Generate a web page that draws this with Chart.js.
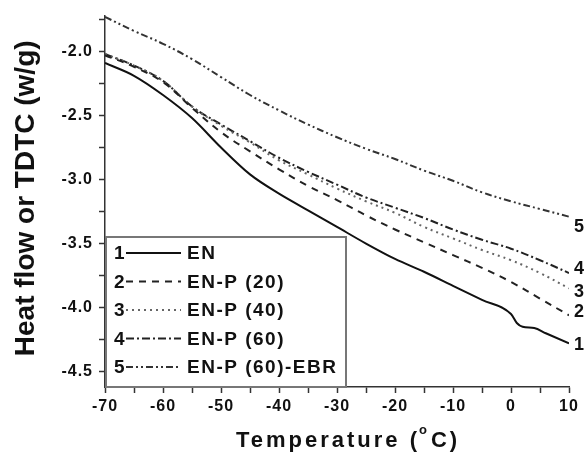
<!DOCTYPE html>
<html>
<head>
<meta charset="utf-8">
<script src="https://cdn.jsdelivr.net/npm/chart.js@4/dist/chart.umd.min.js"></script>
<style>
  html, body { margin: 0; padding: 0; background: #fff; }
  #wrap { width: 584px; height: 461px; }
</style>
</head>
<body>
<div id="wrap"><canvas id="dsc_chart" width="584" height="461"></canvas></div>
<script>
// temperature grid (°C)
const temps = [-70, -65, -60, -55, -50, -45, -40, -35, -30, -25, -20, -15, -10, -5, 0, 5, 10];
const tempsEN = [-70, -65, -60, -55, -50, -45, -40, -35, -30, -25, -20, -15, -10, -5, 0, 1, 2, 4, 6, 10];

// heat flow (w/g)
const flowEN = [-2.09, -2.19, -2.34, -2.52, -2.75, -2.96, -3.11, -3.24, -3.37, -3.50, -3.62, -3.72, -3.83, -3.94, -4.05, -4.12, -4.15, -4.16, -4.20, -4.28];
const flowP20 = [-2.03, -2.12, -2.24, -2.44, -2.63, -2.78, -2.92, -3.05, -3.16, -3.28, -3.39, -3.49, -3.59, -3.69, -3.80, -3.93, -4.06];
const flowP40 = [-2.02, -2.11, -2.23, -2.43, -2.58, -2.71, -2.85, -2.96, -3.07, -3.17, -3.26, -3.37, -3.46, -3.55, -3.63, -3.73, -3.85];
const flowP60 = [-2.02, -2.11, -2.23, -2.43, -2.57, -2.70, -2.83, -2.94, -3.04, -3.14, -3.22, -3.30, -3.39, -3.47, -3.54, -3.63, -3.73];
const flowEBR = [-1.73, -1.84, -1.94, -2.06, -2.20, -2.34, -2.46, -2.57, -2.67, -2.76, -2.84, -2.93, -3.01, -3.10, -3.17, -3.23, -3.29];

const seriesNames = ['EN', 'EN-P (20)', 'EN-P (40)', 'EN-P (60)', 'EN-P (60)-EBR'];
const seriesNums = ['1', '2', '3', '4', '5'];
const xTitle = 'Temperature (';
const yTitle = 'Heat flow or TDTC (w/g)';

const FONT = '"Liberation Sans", Arial, sans-serif';

function toPoints(xs, ys) {
    return xs.map((x, i) => ({ x: x, y: ys[i] }));
}

function makeSet(label, xs, ys, dash, color, mode) {
    return {
        label: label,
        data: toPoints(xs, ys),
        borderColor: color,
        borderWidth: 2,
        borderDash: dash,
        pointRadius: 0,
        showLine: true,
        tension: 0.4,
        cubicInterpolationMode: mode,
        fill: false
    };
}

const datasets = [
    makeSet(seriesNames[0], tempsEN, flowEN, [], '#111', 'monotone'),
    makeSet(seriesNames[1], temps, flowP20, [7, 6], '#222', 'default'),
    makeSet(seriesNames[2], temps, flowP40, [2, 4], '#666', 'default'),
    makeSet(seriesNames[3], temps, flowP60, [8, 3, 2, 3], '#222', 'default'),
    makeSet(seriesNames[4], temps, flowEBR, [7, 3, 2, 3, 2, 3], '#333', 'default')
];

// titles, legend box and curve numbers drawn on top
const extrasPlugin = {
    id: 'extras',
    beforeDraw(chart) {
        chart.ctx.letterSpacing = '1px';
    },
    afterDraw(chart) {
        const ctx = chart.ctx;
        const xs = chart.scales.x;
        const ys = chart.scales.y;
        ctx.save();
        ctx.fillStyle = '#111';

        // y title
        ctx.letterSpacing = '0px';
        ctx.font = 'bold 28px ' + FONT;
        ctx.textAlign = 'center';
        ctx.textBaseline = 'middle';
        ctx.save();
        ctx.translate(26, (chart.chartArea.top + chart.chartArea.bottom) / 2 - 3);
        ctx.rotate(-Math.PI / 2);
        ctx.fillText(yTitle, 0, 0);
        ctx.restore();

        // x title with superscript o
        ctx.letterSpacing = '3px';
        ctx.textAlign = 'left';
        ctx.textBaseline = 'alphabetic';
        ctx.font = 'bold 22px ' + FONT;
        const w1 = ctx.measureText(xTitle).width;
        ctx.font = 'bold 13px ' + FONT;
        const w2 = ctx.measureText('o').width;
        ctx.font = 'bold 22px ' + FONT;
        const w3 = ctx.measureText('C)').width;
        let tx = 348 - (w1 + w2 + w3) / 2;
        ctx.fillText(xTitle, tx, 447);
        tx += w1;
        ctx.font = 'bold 13px ' + FONT;
        ctx.fillText('o', tx - 1, 434);
        tx += w2;
        ctx.font = 'bold 22px ' + FONT;
        ctx.fillText('C)', tx, 447);

        // legend box
        ctx.letterSpacing = '1.5px';
        ctx.fillStyle = '#fff';
        ctx.fillRect(106, 237, 240, 150);
        ctx.strokeStyle = '#777';
        ctx.lineWidth = 2;
        ctx.strokeRect(106, 237, 240, 150);
        ctx.font = 'bold 19px ' + FONT;
        ctx.textBaseline = 'middle';
        datasets.forEach((ds, i) => {
            const y = 253 + i * 28.5;
            ctx.fillStyle = '#111';
            ctx.fillText(seriesNums[i], 114, y + 1);
            ctx.fillText(ds.label, 187, y + 1);
            ctx.beginPath();
            ctx.setLineDash(ds.borderDash);
            ctx.strokeStyle = ds.borderColor;
            ctx.lineWidth = ds.borderWidth;
            ctx.moveTo(126, y);
            ctx.lineTo(181, y);
            ctx.stroke();
        });
        ctx.setLineDash([]);

        // numbers at the right ends of the curves
        const nudge = [2, -3, 4, -4, 10];
        ctx.font = 'bold 18px ' + FONT;
        ctx.letterSpacing = '0px';
        ctx.fillStyle = '#111';
        datasets.forEach((ds, i) => {
            const last = ds.data[ds.data.length - 1];
            ctx.fillText(seriesNums[i], xs.getPixelForValue(last.x) + 5, ys.getPixelForValue(last.y) + nudge[i]);
        });
        ctx.restore();
    }
};

const ctx = document.getElementById('dsc_chart').getContext('2d');
const dscChart = new Chart(ctx, {
    type: 'scatter',
    data: { datasets: datasets },
    options: {
        responsive: false,
        animation: false,
        layout: { padding: { left: 0, right: 15, top: 13, bottom: 0 } },
        plugins: {
            legend: { display: false },
            tooltip: { enabled: false }
        },
        scales: {
            x: {
                type: 'linear',
                min: -70,
                max: 10,
                afterFit: (scale) => { scale.height = 74; },
                border: { color: '#333', width: 1.5 },
                grid: { drawOnChartArea: false, tickLength: 6, tickColor: '#333', tickWidth: 1.5 },
                ticks: {
                    stepSize: 5,
                    autoSkip: false,
                    maxRotation: 0,
                    padding: 4,
                    color: '#111',
                    font: { family: FONT, size: 16, weight: 'bold' },
                    callback: (v) => (v % 10 === 0 ? String(v) : '')
                }
            },
            y: {
                type: 'linear',
                min: -4.62,
                max: -1.72,
                afterFit: (scale) => { scale.width = 105; },
                border: { color: '#333', width: 1.5 },
                grid: { drawOnChartArea: false, tickLength: 6, tickColor: '#333', tickWidth: 1.5 },
                ticks: {
                    stepSize: 0.25,
                    includeBounds: false,
                    autoSkip: false,
                    padding: 6,
                    color: '#111',
                    font: { family: FONT, size: 16, weight: 'bold' },
                    callback: (v) => (Math.abs(v * 2 - Math.round(v * 2)) < 1e-6 ? v.toFixed(1) : '')
                }
            }
        }
    },
    plugins: [extrasPlugin]
});
</script>
</body>
</html>
